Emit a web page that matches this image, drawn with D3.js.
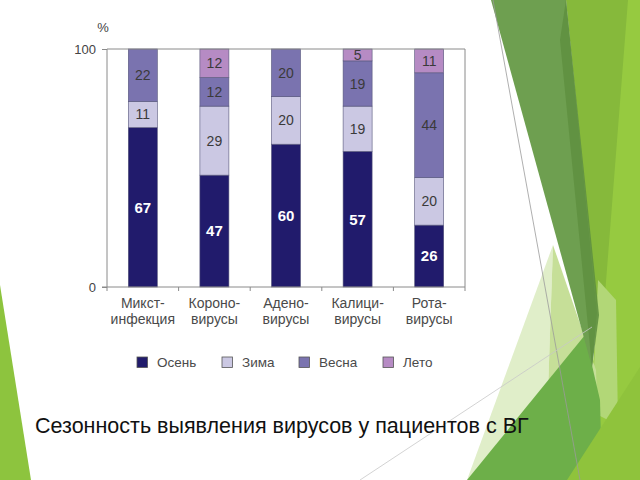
<!DOCTYPE html>
<html><head><meta charset="utf-8">
<script src="https://cdn.jsdelivr.net/npm/d3@7"></script>
<style>html,body{margin:0;padding:0;background:#fff;}svg{display:block;}</style>
</head><body>
<svg id="c" width="640" height="480"></svg>
<script>
const categories = ["Микст-\nинфекция","Короно-\nвирусы","Адено-\nвирусы","Калици-\nвирусы","Рота-\nвирусы"];
const seriesNames = ["Осень","Зима","Весна","Лето"];
const osen  = [67,47,60,57,26];
const zima  = [11,29,20,19,20];
const vesna = [22,12,20,19,44];
const leto  = [0,12,0,5,11];
const yTicks = [0,100];
const caption = "Сезонность выявления вирусов у пациентов с ВГ";
const colors = ["#211b6c","#cbc8e3","#7a73af","#b68bc4"];

const svg = d3.select("#c");
const font = "'Liberation Sans', Arial, sans-serif";

// background decorations
const deco = svg.append("g");
const polys = [
  {p:[[0,285],[0,480],[31,480]], c:"#8dc43e", o:1},
  {p:[[627,0],[640,0],[640,480],[582,480]], c:"#96ca40", o:1},
  {p:[[566,0],[628,0],[603,320],[597,313]], c:"#86b93b", o:1},
  {p:[[598,280],[616,300],[618,425],[592,412]], c:"#b2d777", o:1},
  {p:[[553,245],[467,480],[545,480]], c:"#e0eec9", o:1},
  {p:[[553,245],[545,480],[600,480],[596,370]], c:"#c6df98", o:1},
  {p:[[467,480],[585,335],[600,400],[602,480]], c:"#6daf49", o:1},
  {p:[[567,480],[640,367],[640,480]], c:"#8fc33c", o:1},
  {p:[[491,0],[566,0],[597,313],[592,367]], c:"#6e9f50", o:1},
  {p:[[560,40],[566,0],[599,315],[592,367]], c:"#5f9040", o:0.9}
];
polys.forEach(d=>deco.append("polygon").attr("points",d.p.map(q=>q.join(",")).join(" ")).attr("fill",d.c).attr("opacity",d.o));
deco.append("line").attr("x1",493).attr("y1",0).attr("x2",580).attr("y2",480).attr("stroke","#9a9a9a").attr("stroke-width",0.8);
deco.append("line").attr("x1",360).attr("y1",480).attr("x2",592).attr("y2",327).attr("stroke","#c8c8c8").attr("stroke-width",0.8);

// chart
const x = d3.scaleBand().domain(categories).range([107,465]).paddingInner(0.595).paddingOuter(0.2975);
const y = d3.scaleLinear().domain([0,100]).range([287,49]);

const rows = categories.map((c,i)=>({cat:c, "Осень":osen[i], "Зима":zima[i], "Весна":vesna[i], "Лето":leto[i]}));
const stacked = d3.stack().keys(seriesNames)(rows);

const g = svg.append("g");
stacked.forEach((s,si)=>{
  s.forEach((d,i)=>{
    const v = d[1]-d[0];
    if (v<=0) return;
    const y0 = Math.min(d[0],100), y1 = Math.min(d[1],100);
    g.append("rect").attr("x",x(categories[i])).attr("width",x.bandwidth())
      .attr("y",y(y1)).attr("height",y(y0)-y(y1))
      .attr("fill",colors[si]).attr("stroke","#55557a").attr("stroke-width",0.6);
    g.append("text").attr("x",x(categories[i])+x.bandwidth()/2).attr("y",(y(y0)+y(y1))/2)
      .attr("dy","0.36em").attr("text-anchor","middle")
      .attr("font-family",font).attr("font-size",si===0?15:14)
      .attr("font-weight",si===0?"bold":"normal")
      .attr("fill",si===0?"#ffffff":"#3a3a3a").text(v);
  });
});

// frame
const ax = svg.append("g").attr("stroke","#8a8a8a").attr("stroke-width",1).attr("fill","none");
ax.append("line").attr("x1",107).attr("x2",465).attr("y1",y(100)).attr("y2",y(100));
ax.append("line").attr("x1",465).attr("x2",465).attr("y1",y(100)).attr("y2",y(0));
ax.append("line").attr("x1",107).attr("x2",107).attr("y1",y(100)).attr("y2",y(0));

// y axis
const yAxis = svg.append("g").attr("transform","translate(107,0)")
  .call(d3.axisLeft(y).tickValues(yTicks).tickSize(5).tickPadding(6));
yAxis.select(".domain").remove();
yAxis.selectAll("line").attr("stroke","#8a8a8a");
yAxis.selectAll("text").attr("font-family",font).attr("font-size",13).attr("fill","#444");

// x axis
const xAxis = svg.append("g").attr("transform",`translate(0,${y(0)})`)
  .call(d3.axisBottom(x).tickSize(0).tickFormat(""));
xAxis.select(".domain").attr("stroke","#8a8a8a").attr("d","M102,0H465");
const bounds = categories.map(c=>x(c)-x.step()*x.paddingInner()/2).concat([465]);
bounds[0]=107;
bounds.forEach(b=>xAxis.append("line").attr("x1",b).attr("x2",b).attr("y1",0).attr("y2",4).attr("stroke","#8a8a8a"));
categories.forEach(c=>{
  const lines = c.split("\n");
  const t = svg.append("text").attr("x",x(c)+x.bandwidth()/2).attr("y",308)
    .attr("text-anchor","middle").attr("font-family",font).attr("font-size",14).attr("fill","#4a4a4a");
  lines.forEach((l,k)=>t.append("tspan").attr("x",x(c)+x.bandwidth()/2).attr("dy",k?16:0).text(l));
});

svg.append("text").attr("x",103).attr("y",32).attr("text-anchor","middle")
  .attr("font-family",font).attr("font-size",13).attr("fill","#444").text("%");

// legend
const legX = [137,222,299,383];
seriesNames.forEach((n,i)=>{
  svg.append("rect").attr("x",legX[i]).attr("y",357).attr("width",10.5).attr("height",10.5)
    .attr("fill",colors[i]).attr("stroke","#555").attr("stroke-width",0.8);
  svg.append("text").attr("x",legX[i]+20).attr("y",362.5).attr("dy","0.36em")
    .attr("font-family",font).attr("font-size",13.5).attr("fill","#4a4a4a").text(n);
});

// caption
svg.append("text").attr("x",35).attr("y",433).attr("font-family",font).attr("font-size",21.5)
  .attr("fill","#111").text(caption);
</script>
</body></html>
